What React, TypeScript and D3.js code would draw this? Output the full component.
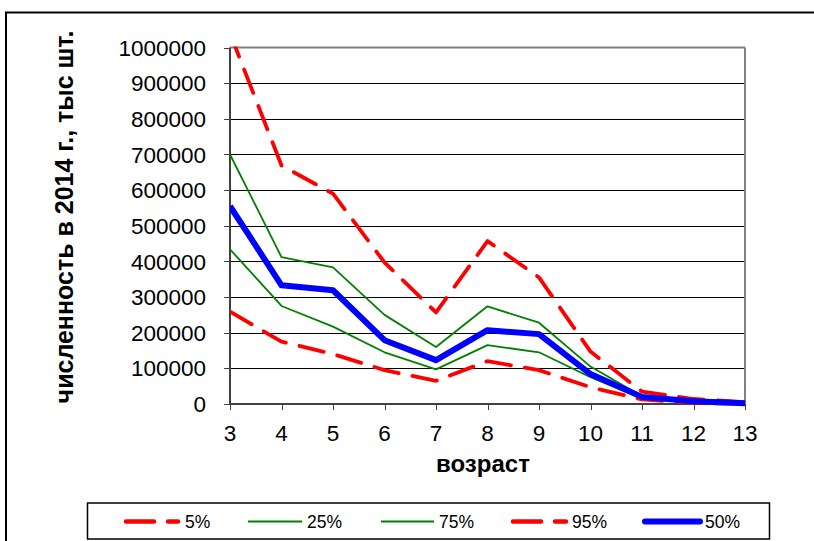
import React from "react";
import * as d3 from "d3";

const ages = [3, 4, 5, 6, 7, 8, 9, 10, 11, 12, 13];
const p5 = [259000, 175000, 140000, 95000, 65000, 120000, 95000, 47000, 13000, 3000, 1000];
const p25 = [434000, 275000, 217000, 145000, 97000, 165000, 145000, 75000, 15000, 4000, 1000];
const p75 = [700000, 412000, 383000, 250000, 160000, 274000, 228000, 105000, 22000, 5000, 1000];
const p95 = [1040000, 669000, 590000, 397000, 257000, 457000, 355000, 147000, 35000, 14000, 5000];
const p50 = [555000, 333000, 319000, 179000, 123000, 207000, 196000, 84000, 20000, 8000, 2000];
const yTicks = [0, 100000, 200000, 300000, 400000, 500000, 600000, 700000, 800000, 900000, 1000000];
const legendLabels = ["5%", "25%", "75%", "95%", "50%"];

const W = 814;
const H = 541;
const left = 230, right = 745, top = 47.5, bottom = 404;
const FONT = "'Liberation Sans', Arial, sans-serif";

export default function App() {
  const x = d3.scaleLinear().domain([3, 13]).range([left, right]);
  const y = d3.scaleLinear().domain([0, 1000000]).range([bottom, top]);
  const line = d3
    .line<number>()
    .x((_, i) => x(ages[i]))
    .y((d) => y(d));

  const styles: Record<string, any> = {
    "5%": { data: p5, stroke: "#FF0000", w: 3.8, dash: "25 14" },
    "25%": { data: p25, stroke: "#008000", w: 1.8, dash: null },
    "75%": { data: p75, stroke: "#008000", w: 1.8, dash: null },
    "95%": { data: p95, stroke: "#FF0000", w: 3.8, dash: "25 14" },
    "50%": { data: p50, stroke: "#0000FF", w: 6, dash: null },
  };

  const legendX: Record<string, [number, number, number]> = {
    "5%": [126, 178, 185],
    "25%": [248, 302, 307],
    "75%": [381, 434, 439],
    "95%": [513, 566, 572],
    "50%": [645, 700, 705],
  };

  return (
    <svg
      width={W}
      height={H}
      style={{ position: "absolute", left: 0, top: 0, background: "#fff" }}
      fontFamily={FONT}
    >
      <rect x={0} y={0} width={W} height={H} fill="#fff" />
      <rect x={6} y={12.5} width={W + 50} height={H + 50} fill="none" stroke="#000" strokeWidth={2} />
      <defs>
        <clipPath id="plotclip">
          <rect x={left} y={top - 1} width={right - left + 6} height={bottom - top + 8} />
        </clipPath>
      </defs>

      {/* gridlines */}
      {yTicks.slice(1, -1).map((t) => (
        <line key={t} x1={left} x2={right} y1={Math.round(y(t)) + 0.5} y2={Math.round(y(t)) + 0.5} stroke="#000" strokeWidth={1} />
      ))}
      {/* plot border */}
      <line x1={left} x2={right} y1={top} y2={top} stroke="#808080" strokeWidth={2} />
      <line x1={right} x2={right} y1={top} y2={bottom} stroke="#808080" strokeWidth={2} />

      {/* axes */}
      <line x1={left} x2={left} y1={top} y2={bottom + 1} stroke="#404040" strokeWidth={2} />
      <line x1={left} x2={right} y1={bottom} y2={bottom} stroke="#404040" strokeWidth={2} />
      {yTicks.map((t) => (
        <g key={t}>
          <line x1={left - 6} x2={left} y1={Math.round(y(t)) + 0.5} y2={Math.round(y(t)) + 0.5} stroke="#404040" strokeWidth={1} />
          <text x={206} y={y(t)} dy="0.36em" textAnchor="end" fontSize={22.5} fill="#000">
            {t}
          </text>
        </g>
      ))}
      {ages.map((a) => (
        <g key={a}>
          <line x1={Math.round(x(a)) + 0.5} x2={Math.round(x(a)) + 0.5} y1={bottom} y2={bottom + 6} stroke="#404040" strokeWidth={1} />
          <text x={x(a)} y={440.5} textAnchor="middle" fontSize={22.5} fill="#000">
            {a}
          </text>
        </g>
      ))}

      {/* series */}
      <g clipPath="url(#plotclip)">
        {legendLabels.map((k) => {
          const s = styles[k];
          return (
            <path
              key={k}
              d={line(s.data) || ""}
              fill="none"
              stroke={s.stroke}
              strokeWidth={s.w}
              strokeDasharray={s.dash || undefined}
              strokeLinejoin="round"
              strokeLinecap={s.dash ? "round" : "butt"}
            />
          );
        })}
      </g>

      {/* axis titles */}
      <text x={483} y={472} textAnchor="middle" fontSize={24} fontWeight="bold" fill="#000">
        возраст
      </text>
      <text
        transform={`translate(73,217) rotate(-90)`}
        textAnchor="middle"
        fontSize={25}
        fontWeight="bold"
        fill="#000"
      >
        численность в 2014 г., тыс шт.
      </text>

      {/* legend */}
      <rect x={87.5} y={503} width={682} height={36} fill="#fff" stroke="#000" strokeWidth={1.5} />
      {legendLabels.map((k) => {
        const s = styles[k];
        const [x1, x2, tx] = legendX[k];
        return (
          <g key={k}>
            <line
              x1={x1}
              x2={x2}
              y1={521.5}
              y2={521.5}
              stroke={s.stroke}
              strokeWidth={s.dash ? 4.5 : s.w}
              strokeDasharray={s.dash ? "28 14" : undefined}
              strokeLinecap={s.dash || k === "50%" ? "round" : "butt"}
            />
            <text x={tx} y={521.5} dy="0.36em" fontSize={17.5} fill="#000">
              {k}
            </text>
          </g>
        );
      })}
    </svg>
  );
}
